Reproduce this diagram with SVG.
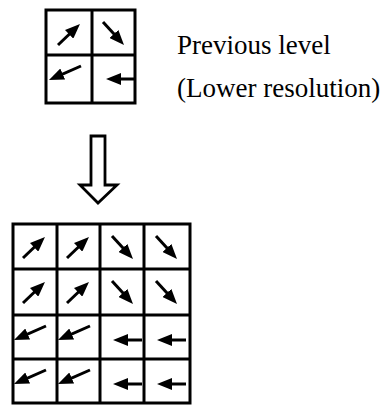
<svg xmlns="http://www.w3.org/2000/svg" xmlns:xlink="http://www.w3.org/1999/xlink" width="386" height="408" viewBox="0 0 386 408">
<style>
.grid{fill:none;stroke:#000;stroke-width:3}
.vec{fill:none;stroke:#000;stroke-width:3}
.lbl{font-size:27px;fill:#000}
.big{fill:#fff;stroke:#000;stroke-width:2.8;stroke-linejoin:miter}
</style>
<defs>
<marker id="head" markerUnits="userSpaceOnUse" markerWidth="15" markerHeight="12" refX="7" refY="6" orient="auto" viewBox="0 0 15 12">
<path d="M0,0 L15,6 L0,12 z" fill="#000"/>
</marker>
<path id="ne" class="vec" d="M10,34 L26.2,18.5" marker-end="url(#head)"/>
<path id="se" class="vec" d="M12,12 L27.6,29.1" marker-end="url(#head)"/>
<path id="sw" class="vec" d="M33,11 L8.3,21.8" marker-end="url(#head)"/>
<path id="w" class="vec" d="M42,25 L21,25" marker-end="url(#head)"/>
</defs>
<g id="coarse-grid">
<rect class="grid" x="46" y="10" width="89" height="93"/>
<line class="grid" x1="92" y1="10" x2="92" y2="103"/>
<line class="grid" x1="46" y1="55" x2="135" y2="55"/>
<use xlink:href="#ne" x="48" y="11"/>
<use xlink:href="#se" x="91" y="10"/>
<use xlink:href="#sw" x="48" y="55"/>
<use xlink:href="#w" x="93" y="54"/>
</g>
<g id="label" font-family="'Liberation Serif', 'DejaVu Serif', serif">
<text class="lbl" x="177" y="54">Previous level</text>
<text class="lbl" x="177" y="97">(Lower resolution)</text>
</g>
<g id="connectors">
<polygon class="big" points="91,136 105,136 105,185 117,185 98,203 80,185 91,185"/>
</g>
<g id="fine-grid">
<rect class="grid" x="13" y="224" width="177" height="179"/>
<line class="grid" x1="57" y1="224" x2="57" y2="403"/>
<line class="grid" x1="100" y1="224" x2="100" y2="403"/>
<line class="grid" x1="144" y1="224" x2="144" y2="403"/>
<line class="grid" x1="13" y1="269" x2="190" y2="269"/>
<line class="grid" x1="13" y1="315" x2="190" y2="315"/>
<line class="grid" x1="13" y1="359" x2="190" y2="359"/>
<use xlink:href="#ne" x="13" y="224"/>
<use xlink:href="#ne" x="57" y="224"/>
<use xlink:href="#se" x="100" y="224"/>
<use xlink:href="#se" x="144" y="224"/>
<use xlink:href="#ne" x="13" y="269"/>
<use xlink:href="#ne" x="57" y="269"/>
<use xlink:href="#se" x="100" y="269"/>
<use xlink:href="#se" x="144" y="269"/>
<use xlink:href="#sw" x="13" y="315"/>
<use xlink:href="#sw" x="57" y="315"/>
<use xlink:href="#w" x="100" y="315"/>
<use xlink:href="#w" x="144" y="315"/>
<use xlink:href="#sw" x="13" y="359"/>
<use xlink:href="#sw" x="57" y="359"/>
<use xlink:href="#w" x="100" y="359"/>
<use xlink:href="#w" x="144" y="359"/>
</g>
</svg>
